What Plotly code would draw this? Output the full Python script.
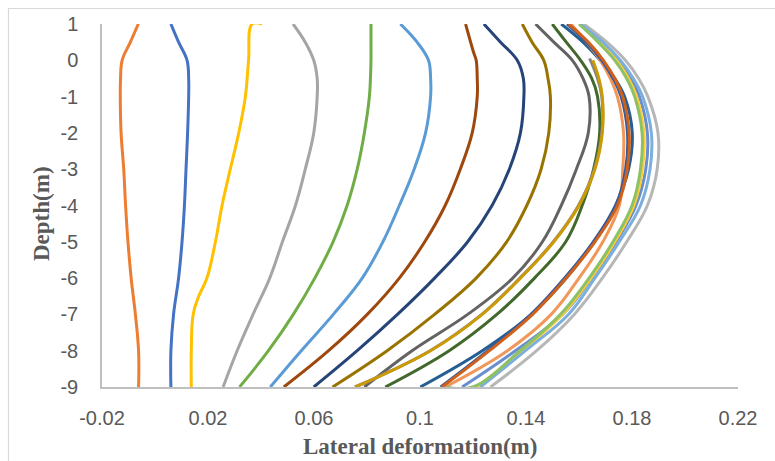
import plotly.graph_objects as go

# ---------------- data ----------------
DEPTH = [1, 0.5, 0, -0.5, -1, -2, -3, -4, -5, -6, -7, -8, -9]

s1_blue = [0.0060, 0.0089, 0.0121, 0.0127, 0.0127, 0.0123, 0.0117, 0.0111, 0.0102, 0.0089, 0.0070, 0.0060, 0.0060]
s2_orange = [-0.0063, -0.0093, -0.0124, -0.0130, -0.0131, -0.0128, -0.0118, -0.0111, -0.0102, -0.0090, -0.0074, -0.0062, -0.0062]
s3_gray = [0.0521, 0.0567, 0.0599, 0.0612, 0.0612, 0.0599, 0.0567, 0.0530, 0.0481, 0.0433, 0.0370, 0.0310, 0.0257]
s4_depth = [1, 1, 0, -1, -2, -3, -4, -5, -6, -6.5, -7, -8, -9]
s4_gold = [0.0404, 0.0366, 0.0353, 0.0341, 0.0316, 0.0284, 0.0253, 0.0228, 0.0196, 0.0165, 0.0144, 0.0137, 0.0137]
s5_lightblue = [0.0926, 0.0989, 0.1032, 0.1040, 0.1040, 0.1021, 0.0978, 0.0922, 0.0860, 0.0782, 0.0673, 0.0552, 0.0435]
s6_green = [0.0815, 0.0815, 0.0815, 0.0813, 0.0809, 0.0790, 0.0763, 0.0725, 0.0672, 0.0603, 0.0522, 0.0428, 0.0319]
s7_navy = [0.1241, 0.1304, 0.1367, 0.1390, 0.1392, 0.1379, 0.1337, 0.1272, 0.1180, 0.1055, 0.0915, 0.0763, 0.0599]
s8_depth = [1, 0.2, 0, -0.5, -1, -2, -3, -4, -5, -6, -7, -8, -9]
s8_brown = [0.1172, 0.1203, 0.1212, 0.1216, 0.1216, 0.1197, 0.1152, 0.1095, 0.1018, 0.0922, 0.0801, 0.0655, 0.0486]
s9_darkgray = [0.1436, 0.1505, 0.1575, 0.1615, 0.1638, 0.1635, 0.1590, 0.1533, 0.1462, 0.1350, 0.1180, 0.0970, 0.0790]
s10_darkgold = [0.1386, 0.1423, 0.1467, 0.1483, 0.1492, 0.1486, 0.1457, 0.1403, 0.1327, 0.1212, 0.1055, 0.0876, 0.0670]
s11_darkblue = [0.1533, 0.1615, 0.1680, 0.1735, 0.1772, 0.1801, 0.1787, 0.1738, 0.1656, 0.1552, 0.1420, 0.1235, 0.1001]
s12_darkgreen = [0.1499, 0.1552, 0.1606, 0.1648, 0.1670, 0.1678, 0.1655, 0.1612, 0.1550, 0.1432, 0.1290, 0.1110, 0.0869]
s13_blue2 = [0.1603, 0.1682, 0.1748, 0.1795, 0.1828, 0.1858, 0.1852, 0.1815, 0.1740, 0.1648, 0.1538, 0.1360, 0.1159]
s14_lightorange = [0.1570, 0.1628, 0.1680, 0.1718, 0.1745, 0.1768, 0.1765, 0.1752, 0.1690, 0.1600, 0.1495, 0.1330, 0.1095]
s15_lightgray = [0.1618, 0.1705, 0.1775, 0.1825, 0.1860, 0.1898, 0.1895, 0.1858, 0.1780, 0.1688, 0.1582, 0.1440, 0.1266]
s16_lightgold = [0.1602, 0.1679, 0.1742, 0.1787, 0.1817, 0.1845, 0.1839, 0.1807, 0.1735, 0.1645, 0.1537, 0.1385, 0.1216]
s17_lightblue2 = [0.1606, 0.1690, 0.1756, 0.1805, 0.1840, 0.1873, 0.1868, 0.1832, 0.1752, 0.1660, 0.1560, 0.1398, 0.1228]
s18_depth = [1, 0.5, 0, -0.5, -1, -2, -3, -4, -5, -6, -7, -8, -9, -9]
s18_lightgreen = [0.1600, 0.1672, 0.1735, 0.1780, 0.1810, 0.1838, 0.1832, 0.1800, 0.1728, 0.1638, 0.1530, 0.1378, 0.1200, 0.1100]
s19_blue3 = [0.1555, 0.1629, 0.1686, 0.1729, 0.1759, 0.1783, 0.1776, 0.1739, 0.1654, 0.1546, 0.1419, 0.1256, 0.1078]
s20_orange2 = [0.1561, 0.1635, 0.1692, 0.1735, 0.1765, 0.1789, 0.1782, 0.1745, 0.1660, 0.1552, 0.1425, 0.1262, 0.1083]
s21_depth = [0.05, -0.5, -1, -2, -3, -4, -5, -6, -7, -8, -9]
s21_gray2 = [0.1640, 0.1670, 0.1686, 0.1686, 0.1658, 0.1598, 0.1503, 0.1377, 0.1233, 0.1038, 0.0754]
s22_depth = [0, -0.5, -1, -2, -3, -4, -5, -6, -7, -8, -9]
s22_gold2 = [0.1652, 0.1675, 0.1688, 0.1688, 0.1660, 0.1600, 0.1505, 0.1379, 0.1235, 0.1040, 0.0756]

x_tickvals = [-0.02, 0.02, 0.06, 0.10, 0.14, 0.18, 0.22]
x_ticktext = ["-0.02", "0.02", "0.06", "0.1", "0.14", "0.18", "0.22"]
y_tickvals = [1, 0, -1, -2, -3, -4, -5, -6, -7, -8, -9]
y_ticktext = ["1", "0", "-1", "-2", "-3", "-4", "-5", "-6", "-7", "-8", "-9"]

series = [
    (s1_blue, DEPTH, "#4472C4"),
    (s2_orange, DEPTH, "#ED7D31"),
    (s3_gray, DEPTH, "#A5A5A5"),
    (s4_gold, s4_depth, "#FFC000"),
    (s5_lightblue, DEPTH, "#5B9BD5"),
    (s6_green, DEPTH, "#70AD47"),
    (s7_navy, DEPTH, "#264478"),
    (s8_brown, s8_depth, "#9E480E"),
    (s9_darkgray, DEPTH, "#636363"),
    (s10_darkgold, DEPTH, "#997300"),
    (s11_darkblue, DEPTH, "#255E91"),
    (s12_darkgreen, DEPTH, "#43682B"),
    (s13_blue2, DEPTH, "#698ED0"),
    (s14_lightorange, DEPTH, "#F1975A"),
    (s15_lightgray, DEPTH, "#B7B7B7"),
    (s16_lightgold, DEPTH, "#FFCD33"),
    (s17_lightblue2, DEPTH, "#7CAFDD"),
    (s18_lightgreen, s18_depth, "#8CC168"),
    (s19_blue3, DEPTH, "#335AA1"),
    (s20_orange2, DEPTH, "#D0611A"),
    (s21_gray2, s21_depth, "#848484"),
    (s22_gold2, s22_depth, "#CC9A06"),
]

fig = go.Figure()
for xs, ys, col in series:
    fig.add_trace(go.Scatter(
        x=xs, y=ys, mode="lines",
        line=dict(color=col, width=3, shape="spline", smoothing=1.1),
        showlegend=False, hoverinfo="skip",
    ))

tick_font = dict(family="Liberation Sans, Arial, sans-serif", size=20, color="#595959")
title_font = dict(family="Liberation Serif, Times New Roman, serif", size=23, color="#595959")

L, R, T, B = 102, 37, 24, 74
W, H = 775, 461
pw, ph = W - L - R, H - T - B

fig.update_layout(
    width=W, height=H,
    margin=dict(l=L, r=R, t=T, b=B, pad=0),
    paper_bgcolor="white", plot_bgcolor="white",
    showlegend=False,
    xaxis=dict(
        range=[-0.02, 0.22], tickmode="array", tickvals=x_tickvals, ticktext=x_ticktext,
        showgrid=False, zeroline=False, showline=True, linecolor="#BFBFBF", linewidth=1.5,
        ticks="", tickfont=tick_font, ticklabelstandoff=12,
    ),
    yaxis=dict(
        range=[-9, 1], tickmode="array", tickvals=y_tickvals, ticktext=y_ticktext,
        showgrid=False, zeroline=False, showline=True, linecolor="#BFBFBF", linewidth=1.5,
        ticks="", tickfont=tick_font, ticklabelstandoff=18,
    ),
    annotations=[
        dict(text="<b>Lateral deformation(m)</b>", xref="paper", yref="paper",
             x=0.5, y=(H - B - 447) / ph, xanchor="center", yanchor="middle",
             showarrow=False, font=title_font),
        dict(text="<b>Depth(m)</b>", xref="paper", yref="paper",
             x=(41 - L) / pw, y=(H - B - 213) / ph, xanchor="center", yanchor="middle",
             textangle=-90, showarrow=False, font=title_font),
    ],
    shapes=[
        dict(type="rect", xref="paper", yref="paper",
             x0=(8.5 - L) / pw, x1=(W + 20 - L) / pw,
             y0=(H - B - (H + 20)) / ph, y1=(H - B - 8.5) / ph,
             line=dict(color="#D9D9D9", width=1.2), fillcolor="rgba(0,0,0,0)", layer="below"),
    ],
)

fig.write_html("out.html")
